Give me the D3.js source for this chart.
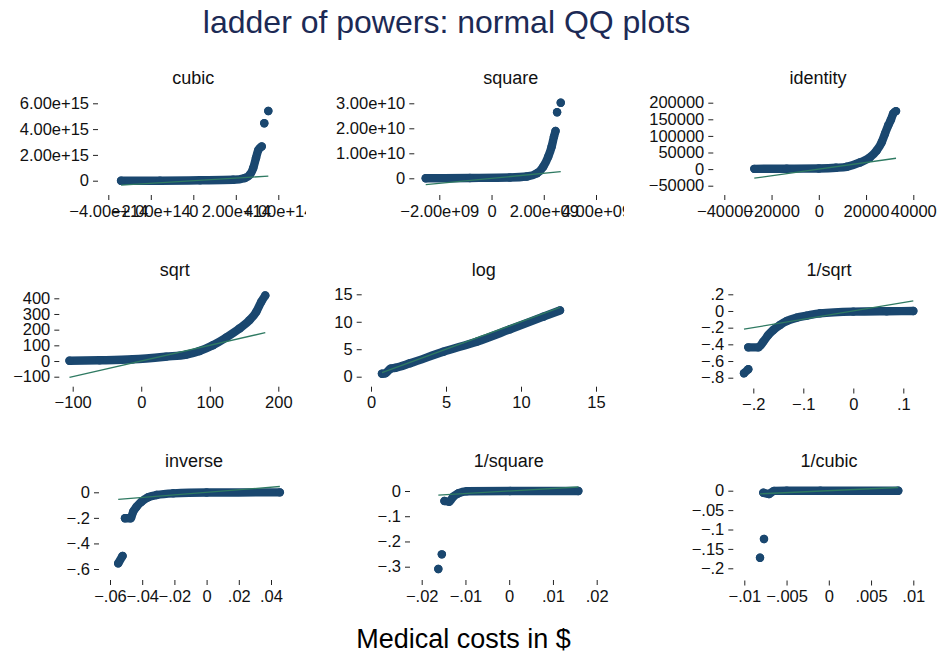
<!DOCTYPE html>
<html>
<head>
<meta charset="utf-8">
<script src="https://cdn.jsdelivr.net/npm/d3@7/dist/d3.min.js"></script>
<style>
  html, body { margin: 0; padding: 0; background: #fff; }
  svg { display: block; font-family: "Liberation Sans", Arial, Helvetica, sans-serif; }
</style>
</head>
<body>
<script>
// ---- data: normal quantiles (Q) and transformed medical costs (V); null splits groups ----
const panelTitles = ["cubic", "square", "identity", "sqrt", "log", "1/sqrt", "inverse", "1/square", "1/cubic"];

const cubicQ = [-3.4e14, -1.57e14, 0.32e14, 1.87e14, 2.43e14, 2.67e14, 2.82e14, 2.95e14, 3.06e14, 3.22e14, null, 3.34e14, null, 3.53e14];
const cubicV = [1e12, 1e12, 3e13, 7e13, 2.1e14, 4.8e14, 9.8e14, 1.76e15, 2.38e15, 2.65e15, null, 4.45e15, null, 5.40e15];
const cubicXTicks = [-4e14, -2e14, 0, 2e14, 4e14];
const cubicXLabels = ["−4.00e+14", "−2.00e+14", "0", "2.00e+14", "4.00e+14"];
const cubicYTicks = [0, 2e15, 4e15, 6e15];
const cubicYLabels = ["0", "2.00e+15", "4.00e+15", "6.00e+15"];

const squareQ = [-2.52e9, -0.83e9, 0.70e9, 1.35e9, 1.74e9, 1.98e9, 2.17e9, 2.30e9, 2.39e9, 2.45e9, null, 2.51e9, null, 2.65e9];
const squareV = [1e7, 1.2e8, 3.2e8, 7.2e8, 2.0e9, 4.64e9, 8.64e9, 1.26e10, 1.66e10, 1.89e10, null, 2.64e10, null, 3.02e10];
const squareXTicks = [-2e9, 0, 2e9, 4e9];
const squareXLabels = ["−2.00e+09", "0", "2.00e+09", "4.00e+09"];
const squareYTicks = [0, 1e10, 2e10, 3e10];
const squareYLabels = ["0", "1.00e+10", "2.00e+10", "3.00e+10"];

const identityQ = [-27300, -13590, 0, 7280, 11810, 17440, 21670, 24510, 26630, 28020, 29420, 30440, 31540, 32680];
const identityV = [800, 1200, 2000, 4000, 7000, 20100, 35400, 55800, 81100, 106700, 132000, 147300, 167700, 174700];
const identityXTicks = [-40000, -20000, 0, 20000, 40000];
const identityXLabels = ["−40000", "−20000", "0", "20000", "40000"];
const identityYTicks = [-50000, 0, 50000, 100000, 150000, 200000];
const identityYLabels = ["−50000", "0", "50000", "100000", "150000", "200000"];

const sqrtQ = [-104.7, -60.7, -12.3, 36.5, 65.7, 85.1, 104.5, 124.1, 143.5, 158.1, 167.9, 175.2, 181];
const sqrtV = [1.5, 4.5, 10.9, 28.2, 41, 64.1, 100.6, 150, 207.7, 260.9, 314, 378, 418];
const sqrtXTicks = [-100, 0, 100, 200];
const sqrtXLabels = ["−100", "0", "100", "200"];
const sqrtYTicks = [-100, 0, 100, 200, 300, 400];
const sqrtYLabels = ["−100", "0", "100", "200", "300", "400"];

const logQ = [0.73, 0.95, 1.3, 1.6, 2.6, 4.82, 7.05, 9.27, 11.49, 12.6];
const logV = [0.55, 0.6, 1.45, 1.6, 2.44, 4.55, 6.38, 8.63, 10.93, 12.07];
const logXTicks = [0, 5, 10, 15];
const logXLabels = ["0", "5", "10", "15"];
const logYTicks = [0, 5, 10, 15];
const logYLabels = ["0", "5", "10", "15"];

const invSqrtQ = [-0.2186, -0.21, null, -0.21, -0.19, -0.18, -0.17, -0.16, -0.1466, -0.133, -0.113, -0.093, -0.0666, 0, 0.0668, 0.12];
const invSqrtV = [-0.747, -0.699, null, -0.436, -0.436, -0.368, -0.288, -0.228, -0.168, -0.12, -0.08, -0.056, -0.028, -0.008, -0.003, -0.001];
const invSqrtXTicks = [-0.2, -0.1, 0, 0.1];
const invSqrtXLabels = ["−.2", "−.1", "0", ".1"];
const invSqrtYTicks = [-0.8, -0.6, -0.4, -0.2, 0, 0.2];
const invSqrtYLabels = ["−.8", "−.6", "−.4", "−.2", "0", ".2"];

const inverseQ = [-0.0549, -0.0522, null, -0.0507, -0.0472, -0.0456, -0.0435, -0.0404, -0.0363, -0.031, -0.0207, 0, 0.0455];
const inverseV = [-0.556, -0.498, null, -0.2034, -0.2034, -0.152, -0.113, -0.0735, -0.039, -0.021, -0.008, -0.002, -0.0005];
const inverseXTicks = [-0.06, -0.04, -0.02, 0, 0.02, 0.04];
const inverseXLabels = ["−.06", "−.04", "−.02", "0", ".02", ".04"];
const inverseYTicks = [-0.6, -0.4, -0.2, 0];
const inverseYLabels = ["−.6", "−.4", "−.2", "0"];

const invSquareQ = [-0.0162, null, -0.0154, null, -0.0148, -0.0137, -0.0128, -0.0116, -0.0097, 0.0002, 0.0158];
const invSquareV = [-0.309, null, -0.251, null, -0.0396, -0.0424, -0.0226, -0.0091, -0.001, 0, 0];
const invSquareXTicks = [-0.02, -0.01, 0, 0.01, 0.02];
const invSquareXLabels = ["−.02", "−.01", "0", ".01", ".02"];
const invSquareYTicks = [-0.3, -0.2, -0.1, 0];
const invSquareYLabels = ["−.3", "−.2", "−.1", "0"];

const invCubicQ = [-0.00814, null, -0.00767, null, -0.00775, -0.00708, -0.00649, -0.00498, -0.001, 0.00822];
const invCubicV = [-0.1727, null, -0.1245, null, -0.0052, -0.0085, -0.0005, -0.0003, -0.0001, 0];
const invCubicXTicks = [-0.01, -0.005, 0, 0.005, 0.01];
const invCubicXLabels = ["−.01", "−.005", "0", ".005", ".01"];
const invCubicYTicks = [-0.2, -0.15, -0.1, -0.05, 0];
const invCubicYLabels = ["−.2", "−.15", "−.1", "−.05", "0"];

// ---- layout of the 3x3 grid (pixel positions of each panel's axes) ----
const layout = [
  { x: [108.3, 278.3], y: [180.7, 103.3], yAxisX: 98,    xAxisY: 195,   title: [193.3, 84],  col: 0 },
  { x: [439.3, 596.0], y: [178.3, 103.3], yAxisX: 414.3, xAxisY: 195,   title: [510.7, 84],  col: 1 },
  { x: [724.3, 913.3], y: [185.7, 102.7], yAxisX: 713.3, xAxisY: 195,   title: [818, 84],    col: 2 },
  { x: [72.7, 278.3],  y: [376.7, 298.3], yAxisX: 59.3,  xAxisY: 386.7, title: [174.7, 276], col: 0 },
  { x: [371, 596],     y: [376.7, 294.3], yAxisX: 361.7, xAxisY: 386.7, title: [483.7, 276], col: 1 },
  { x: [753.3, 903.3], y: [377.7, 294.3], yAxisX: 733.3, xAxisY: 388.5, title: [829, 276],   col: 2 },
  { x: [110, 271],     y: [569, 492.3],   yAxisX: 99,    xAxisY: 580,   title: [194, 467],   col: 0 },
  { x: [421.7, 596.7], y: [566.7, 491],   yAxisX: 410,   xAxisY: 580,   title: [508.8, 467], col: 1 },
  { x: [744.3, 913.3], y: [568.3, 490.7], yAxisX: 733.3, xAxisY: 580.5, title: [829, 467],   col: 2 }
];
const colClip = [[0, 306], [310, 624], [624, 937]];

const panels = [
  [cubicQ, cubicV, cubicXTicks, cubicXLabels, cubicYTicks, cubicYLabels],
  [squareQ, squareV, squareXTicks, squareXLabels, squareYTicks, squareYLabels],
  [identityQ, identityV, identityXTicks, identityXLabels, identityYTicks, identityYLabels],
  [sqrtQ, sqrtV, sqrtXTicks, sqrtXLabels, sqrtYTicks, sqrtYLabels],
  [logQ, logV, logXTicks, logXLabels, logYTicks, logYLabels],
  [invSqrtQ, invSqrtV, invSqrtXTicks, invSqrtXLabels, invSqrtYTicks, invSqrtYLabels],
  [inverseQ, inverseV, inverseXTicks, inverseXLabels, inverseYTicks, inverseYLabels],
  [invSquareQ, invSquareV, invSquareXTicks, invSquareXLabels, invSquareYTicks, invSquareYLabels],
  [invCubicQ, invCubicV, invCubicXTicks, invCubicXLabels, invCubicYTicks, invCubicYLabels]
].map((p, i) => ({
  title: panelTitles[i], q: p[0], v: p[1],
  xTicks: p[2], xLabels: p[3], yTicks: p[4], yLabels: p[5], L: layout[i]
}));

// ---- drawing ----
const W = 937, H = 654;
const markerColor = "#1a476f";
const fitColor = "#2f7a62";
const R = 4.2;

const svg = d3.select("body").append("svg").attr("width", W).attr("height", H);
svg.append("rect").attr("width", W).attr("height", H).attr("fill", "#fff");

const defs = svg.append("defs");
colClip.forEach((c, i) => {
  defs.append("clipPath").attr("id", "col" + i)
    .append("rect").attr("x", c[0]).attr("y", 0).attr("width", c[1] - c[0]).attr("height", H);
});

panels.forEach(p => {
  const L = p.L;
  const g = svg.append("g").attr("clip-path", `url(#col${L.col})`);
  const x = d3.scaleLinear().domain([p.xTicks[0], p.xTicks[p.xTicks.length - 1]]).range(L.x);
  const y = d3.scaleLinear().domain([p.yTicks[0], p.yTicks[p.yTicks.length - 1]]).range(L.y);

  // axes
  const xa = g.append("g").attr("transform", `translate(0,${L.xAxisY})`)
    .call(d3.axisBottom(x).tickValues(p.xTicks).tickSize(5).tickPadding(5)
      .tickFormat((d, i) => p.xLabels[i]));
  const ya = g.append("g").attr("transform", `translate(${L.yAxisX},0)`)
    .call(d3.axisLeft(y).tickValues(p.yTicks).tickSize(5).tickPadding(4)
      .tickFormat((d, i) => p.yLabels[i]));
  [xa, ya].forEach(a => {
    a.select(".domain").remove();
    a.selectAll("line").attr("stroke", "#222").attr("stroke-width", 1);
    a.selectAll("text").attr("font-size", 16.5).attr("fill", "#111")
      .attr("font-family", "'Liberation Sans', Arial, Helvetica, sans-serif");
  });

  // quantile points: dense runs drawn as a marker-wide band plus markers
  const idx = d3.range(p.q.length);
  const band = d3.line().defined(i => p.q[i] != null)
    .x(i => x(p.q[i])).y(i => y(p.v[i])).curve(d3.curveMonotoneX);
  g.append("path").attr("d", band(idx))
    .attr("fill", "none").attr("stroke", markerColor).attr("stroke-width", 2 * R)
    .attr("stroke-linecap", "round").attr("stroke-linejoin", "round");
  g.selectAll("circle.pt").data(idx.filter(i => p.q[i] != null)).join("circle")
    .attr("class", "pt").attr("cx", i => x(p.q[i])).attr("cy", i => y(p.v[i]))
    .attr("r", R).attr("fill", markerColor);

  // normal reference line y = x across the quantile range
  const ext = d3.extent(p.q.filter(d => d != null));
  g.append("line")
    .attr("x1", x(ext[0])).attr("y1", y(ext[0]))
    .attr("x2", x(ext[1])).attr("y2", y(ext[1]))
    .attr("stroke", fitColor).attr("stroke-width", 1.3);

  // panel title
  g.append("text").attr("x", L.title[0]).attr("y", L.title[1])
    .attr("text-anchor", "middle").attr("font-size", 18).attr("fill", "#111")
    .text(p.title);
});

svg.append("text").attr("x", 446.5).attr("y", 33)
  .attr("text-anchor", "middle").attr("font-size", 32).attr("fill", "#1c2a55")
  .text("ladder of powers: normal QQ plots");

svg.append("text").attr("x", 463.5).attr("y", 648)
  .attr("text-anchor", "middle").attr("font-size", 27).attr("fill", "#000")
  .text("Medical costs in $");
</script>
</body>
</html>
